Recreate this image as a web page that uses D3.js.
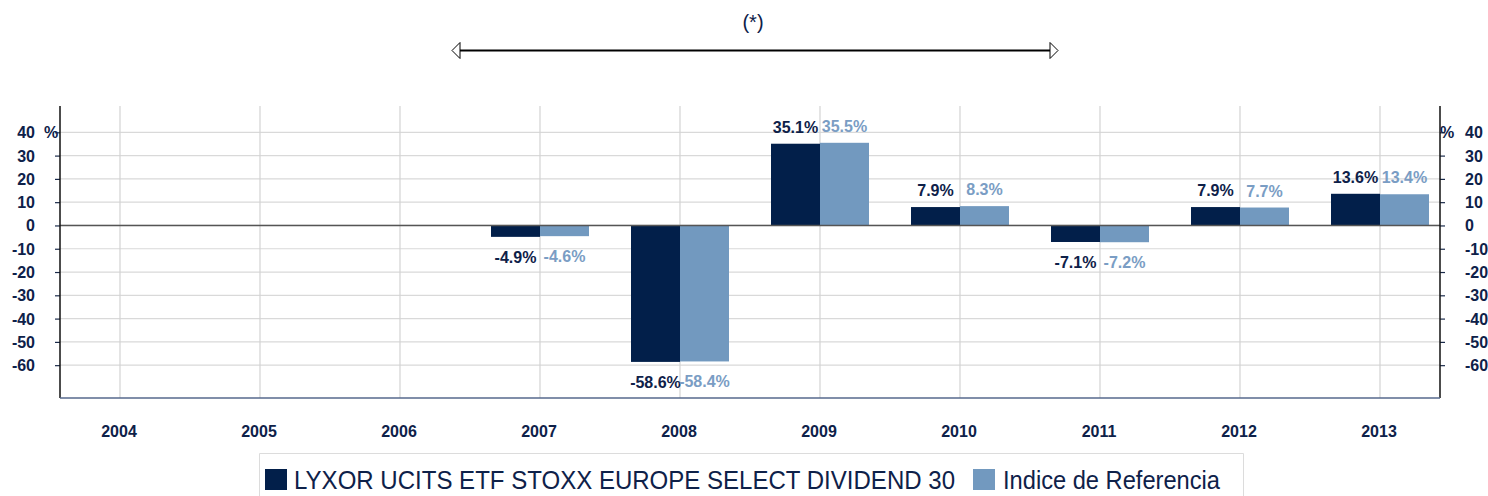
<!DOCTYPE html>
<html>
<head>
<meta charset="utf-8">
<script src="https://cdn.jsdelivr.net/npm/d3@7"></script>
<style>
  html, body { margin: 0; padding: 0; background: #fff; }
  svg { display: block; font-family: "Liberation Sans", Arial, sans-serif; }
</style>
</head>
<body>
<svg id="chart"></svg>
<script>
const years = ["2004", "2005", "2006", "2007", "2008", "2009", "2010", "2011", "2012", "2013"];
const fundValues = [null, null, null, -4.9, -58.6, 35.1, 7.9, -7.1, 7.9, 13.6];
const indexValues = [null, null, null, -4.6, -58.4, 35.5, 8.3, -7.2, 7.7, 13.4];
const yTicks = [40, 30, 20, 10, 0, -10, -20, -30, -40, -50, -60];
const seriesNames = ["LYXOR UCITS ETF STOXX EUROPE SELECT DIVIDEND 30", "Indice de Referencia"];

const darkBlue = "#021f4a", lightBlue = "#7299bf";
const darkText = "#0e2149", lightText = "#7a9dc4";

const W = 1488, H = 496;
const plotLeft = 60, plotRight = 1440, plotTop = 106, plotBottom = 398;

const svg = d3.select("#chart").attr("width", W).attr("height", H);

const x = d3.scalePoint().domain(years).range([120, 1380]);
const y = d3.scaleLinear().domain([-74.1, 51.3]).range([plotBottom, plotTop]);
const barW = 49;

// grid
svg.append("g").selectAll("line").data(yTicks).enter().append("line")
    .attr("x1", plotLeft).attr("x2", plotRight)
    .attr("y1", d => y(d)).attr("y2", d => y(d))
    .attr("stroke", "#d9d9d9").attr("stroke-width", 1.2);

svg.append("g").selectAll("line").data(years).enter().append("line")
    .attr("x1", d => x(d)).attr("x2", d => x(d))
    .attr("y1", plotTop).attr("y2", plotBottom)
    .attr("stroke", "#d3d3d3").attr("stroke-width", 1.2);

// bars
const rows = years.map((yr, i) => ({ year: yr, fund: fundValues[i], index: indexValues[i] }));
const withData = rows.filter(d => d.fund !== null);

svg.append("g").selectAll("rect").data(withData).enter().append("rect")
    .attr("x", d => x(d.year) - barW)
    .attr("y", d => y(Math.max(0, d.fund)))
    .attr("width", barW)
    .attr("height", d => Math.abs(y(d.fund) - y(0)))
    .attr("fill", darkBlue);

svg.append("g").selectAll("rect").data(withData).enter().append("rect")
    .attr("x", d => x(d.year))
    .attr("y", d => y(Math.max(0, d.index)))
    .attr("width", barW)
    .attr("height", d => Math.abs(y(d.index) - y(0)))
    .attr("fill", lightBlue);

// zero line
svg.append("line")
    .attr("x1", plotLeft).attr("x2", plotRight)
    .attr("y1", y(0)).attr("y2", y(0))
    .attr("stroke", "#555").attr("stroke-width", 1.5);

// axes
const leftAxis = svg.append("g").attr("transform", `translate(${plotLeft},0)`)
    .call(d3.axisLeft(y).tickValues(yTicks).tickSize(5).tickFormat(""));
const rightAxis = svg.append("g").attr("transform", `translate(${plotRight},0)`)
    .call(d3.axisRight(y).tickValues(yTicks).tickSize(5).tickFormat(""));
[leftAxis, rightAxis].forEach(a => {
    a.select(".domain").remove();
    a.selectAll(".tick line").attr("stroke", "#1a2a4a").attr("stroke-width", 1.2);
});
svg.append("line").attr("x1", plotLeft).attr("x2", plotLeft).attr("y1", plotTop).attr("y2", plotBottom)
    .attr("stroke", "#111").attr("stroke-width", 1.5);
svg.append("line").attr("x1", plotRight).attr("x2", plotRight).attr("y1", plotTop).attr("y2", plotBottom)
    .attr("stroke", "#111").attr("stroke-width", 1.5);
svg.append("line").attr("x1", plotLeft).attr("x2", plotRight).attr("y1", plotBottom).attr("y2", plotBottom)
    .attr("stroke", "#56698c").attr("stroke-width", 1.5);

// tick labels
const tickStyle = sel => sel.style("font-size", "16px").style("font-weight", "bold").attr("fill", darkText);
svg.append("g").selectAll("text").data(yTicks).enter().append("text")
    .attr("x", 35).attr("y", d => y(d) + 6)
    .attr("text-anchor", "end").text(d => d).call(tickStyle);
svg.append("g").selectAll("text").data(yTicks).enter().append("text")
    .attr("x", 1465).attr("y", d => y(d) + 6)
    .attr("text-anchor", "start").text(d => d).call(tickStyle);
svg.append("text").attr("x", 44).attr("y", y(40) + 6).text("%").call(tickStyle);
svg.append("text").attr("x", 1440).attr("y", y(40) + 6).text("%").call(tickStyle);

svg.append("g").selectAll("text").data(years).enter().append("text")
    .attr("x", d => x(d) - 1).attr("y", 437)
    .attr("text-anchor", "middle").text(d => d).call(tickStyle);

// value labels
const fmt = v => v.toFixed(1) + "%";
const labelY = v => v >= 0 ? y(v) - 11 : y(v) + 26;
svg.append("g").selectAll("text").data(withData).enter().append("text")
    .attr("x", d => x(d.year) - barW / 2).attr("y", d => labelY(d.fund))
    .attr("text-anchor", "middle").text(d => fmt(d.fund)).call(tickStyle);
svg.append("g").selectAll("text").data(withData).enter().append("text")
    .attr("x", d => x(d.year) + barW / 2).attr("y", d => labelY(d.index))
    .attr("text-anchor", "middle").text(d => fmt(d.index))
    .style("font-size", "16px").style("font-weight", "bold").attr("fill", lightText);

// period marker
svg.append("text").attr("x", 753).attr("y", 29).attr("text-anchor", "middle")
    .style("font-size", "20px").attr("fill", darkText).text("(*)");
svg.append("line").attr("x1", 460).attr("x2", 1050).attr("y1", 50.5).attr("y2", 50.5)
    .attr("stroke", "#000").attr("stroke-width", 2);
svg.append("path").attr("d", "M460,42.5 L452,50.5 L460,58.5 Z")
    .attr("fill", "#fff").attr("stroke", "#000").attr("stroke-width", 1);
svg.append("path").attr("d", "M1050,42.5 L1058,50.5 L1050,58.5 Z")
    .attr("fill", "#fff").attr("stroke", "#000").attr("stroke-width", 1);

// legend
svg.append("path").attr("d", "M259.5,500 V453.5 H1243.5 V500")
    .attr("fill", "none").attr("stroke", "#dcdcdc").attr("stroke-width", 1);
const legendItems = [
    { name: seriesNames[0], color: darkBlue, sx: 265, tx: 294, len: 661 },
    { name: seriesNames[1], color: lightBlue, sx: 973, tx: 1003, len: 217 }
];
const lg = svg.append("g").selectAll("g").data(legendItems).enter().append("g");
lg.append("rect").attr("x", d => d.sx).attr("y", 469).attr("width", 22).attr("height", 21)
    .attr("fill", d => d.color);
lg.append("text").attr("x", d => d.tx).attr("y", 489)
    .attr("textLength", d => d.len).attr("lengthAdjust", "spacingAndGlyphs")
    .style("font-size", "26px").attr("fill", darkText).text(d => d.name);
</script>
</body>
</html>
